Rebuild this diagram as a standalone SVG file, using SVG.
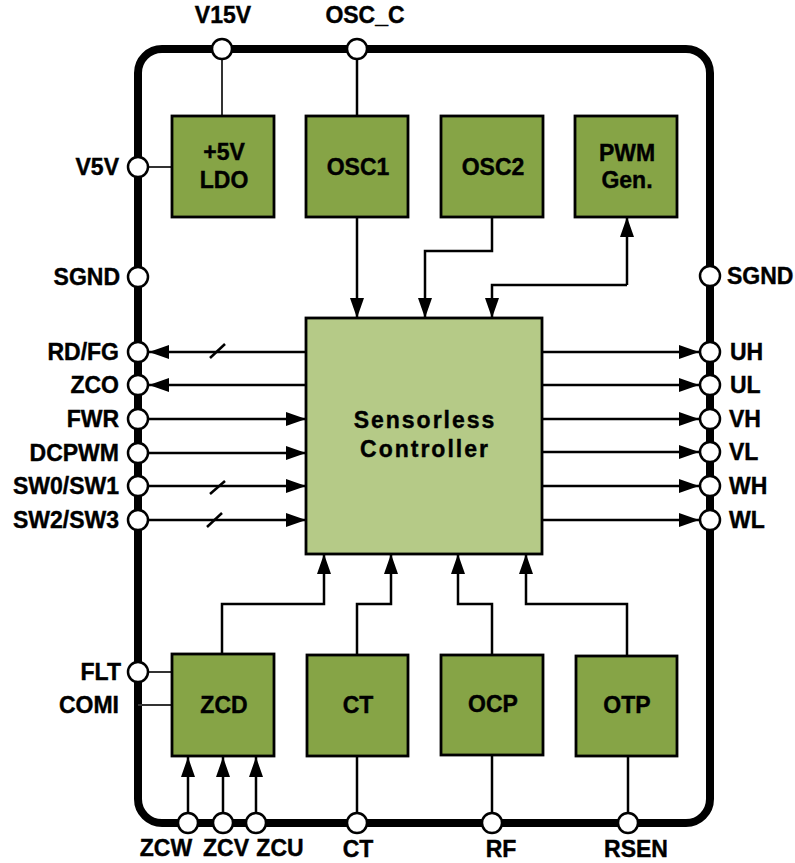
<svg xmlns="http://www.w3.org/2000/svg" width="795" height="863" viewBox="0 0 795 863">
<style>
text{font-family:"Liberation Sans",Arial,sans-serif;font-weight:bold;font-size:23px;fill:#000;stroke:#000;stroke-width:0.4}
.mid{text-anchor:middle}
.end{text-anchor:end}
.blk{fill:#86A446;stroke:#000;stroke-width:2.8}
.ctl{fill:#B5CA87;stroke:#000;stroke-width:2.8}
.pin{fill:#fff;stroke:#000;stroke-width:2.5}
.ln{fill:none;stroke:#000;stroke-width:2.5}
.thin{fill:none;stroke:#333;stroke-width:2}
.arr{marker-end:url(#ah)}
.big{letter-spacing:2px}
</style>
<defs>
<marker id="ah" markerUnits="userSpaceOnUse" markerWidth="20" markerHeight="14" refX="20" refY="7" orient="auto">
<path d="M0,0 L20,7 L0,14 Z" fill="#000"/>
</marker>
</defs>
<rect id="package" x="138" y="49" width="572" height="774" rx="24" fill="none" stroke="#000" stroke-width="8"/>
<g id="connectors">
<line class="thin" x1="222" y1="59" x2="222" y2="116"/>
<line class="thin" x1="148" y1="167" x2="172" y2="167"/>
<line class="ln" x1="357" y1="59" x2="357" y2="116"/>
<line class="ln arr" x1="357" y1="217" x2="357" y2="318"/>
<polyline class="ln arr" points="492,217 492,251 425,251 425,318"/>
<polyline class="ln arr" points="627,285 492,285 492,318"/>
<line class="ln arr" x1="627" y1="285" x2="627" y2="217"/>
<line class="ln arr" x1="306" y1="352" x2="149" y2="352"/>
<line class="ln arr" x1="306" y1="385" x2="149" y2="385"/>
<line class="ln arr" x1="148" y1="419" x2="306" y2="419"/>
<line class="ln arr" x1="148" y1="453" x2="306" y2="453"/>
<line class="ln arr" x1="148" y1="486" x2="306" y2="486"/>
<line class="ln arr" x1="148" y1="520" x2="306" y2="520"/>
<line class="ln" x1="210" y1="358" x2="225" y2="344"/>
<line class="ln" x1="210" y1="494" x2="225" y2="481"/>
<line class="ln" x1="207" y1="527" x2="222" y2="513"/>
<line class="ln arr" x1="542" y1="352" x2="699" y2="352"/>
<line class="ln arr" x1="542" y1="385" x2="699" y2="385"/>
<line class="ln arr" x1="542" y1="419" x2="699" y2="419"/>
<line class="ln arr" x1="542" y1="452" x2="699" y2="452"/>
<line class="ln arr" x1="542" y1="486" x2="699" y2="486"/>
<line class="ln arr" x1="542" y1="520" x2="699" y2="520"/>
<polyline class="ln arr" points="222,654 222,604 324,604 324,554"/>
<polyline class="ln arr" points="357,655 357,604 391,604 391,554"/>
<polyline class="ln arr" points="492,655 492,604 458,604 458,554"/>
<polyline class="ln arr" points="627,656 627,604 526,604 526,554"/>
<line class="thin" x1="148" y1="672" x2="172" y2="672"/>
<line class="thin" x1="138" y1="705" x2="172" y2="705"/>
<line class="ln arr" x1="188" y1="813" x2="188" y2="757"/>
<line class="ln arr" x1="223" y1="813" x2="223" y2="757"/>
<line class="ln arr" x1="256" y1="813" x2="256" y2="757"/>
<line class="ln" x1="357" y1="756" x2="357" y2="813"/>
<line class="ln" x1="492" y1="755" x2="492" y2="813"/>
<line class="ln" x1="628" y1="756" x2="628" y2="813"/>
</g>
<g id="ldo"><rect class="blk" x="172" y="116" width="102" height="101"/><text class="mid" x="224" y="160">+5V</text><text class="mid" x="224" y="188">LDO</text></g>
<g id="osc1"><rect class="blk" x="306" y="116" width="102" height="101"/><text class="mid" x="358" y="175">OSC1</text></g>
<g id="osc2"><rect class="blk" x="441" y="116" width="102" height="101"/><text class="mid" x="493" y="175">OSC2</text></g>
<g id="pwm"><rect class="blk" x="575" y="116" width="102" height="101"/><text class="mid" x="627" y="161">PWM</text><text class="mid" x="627" y="188">Gen.</text></g>
<g id="controller"><rect class="ctl" x="306" y="318" width="236" height="236"/><text class="mid big" x="425" y="428">Sensorless</text><text class="mid big" x="425" y="457">Controller</text></g>
<g id="zcd"><rect class="blk" x="172" y="654" width="102" height="102"/><text class="mid" x="224" y="713">ZCD</text></g>
<g id="ct"><rect class="blk" x="307" y="655" width="101" height="101"/><text class="mid" x="358" y="713">CT</text></g>
<g id="ocp"><rect class="blk" x="441" y="655" width="102" height="100"/><text class="mid" x="493" y="712">OCP</text></g>
<g id="otp"><rect class="blk" x="576" y="656" width="101" height="100"/><text class="mid" x="627" y="713">OTP</text></g>
<g id="pins">
<g id="pin-v15v"><circle class="pin" cx="222" cy="49" r="10"/><text class="mid" x="223" y="23">V15V</text></g>
<g id="pin-oscc"><circle class="pin" cx="357" cy="49" r="10"/><text class="mid" x="365" y="23">OSC_C</text></g>
<g id="pin-v5v"><circle class="pin" cx="138" cy="167" r="10"/><text class="end" x="119" y="175">V5V</text></g>
<g id="pin-sgnd-l"><circle class="pin" cx="138" cy="277" r="10"/><text class="end" x="120" y="285">SGND</text></g>
<g id="pin-rdfg"><circle class="pin" cx="138" cy="352" r="10"/><text class="end" x="119" y="360">RD/FG</text></g>
<g id="pin-zco"><circle class="pin" cx="138" cy="385" r="10"/><text class="end" x="119" y="393">ZCO</text></g>
<g id="pin-fwr"><circle class="pin" cx="138" cy="419" r="10"/><text class="end" x="119" y="427">FWR</text></g>
<g id="pin-dcpwm"><circle class="pin" cx="138" cy="453" r="10"/><text class="end" x="119" y="461">DCPWM</text></g>
<g id="pin-sw01"><circle class="pin" cx="138" cy="486" r="10"/><text class="end" x="119" y="494">SW0/SW1</text></g>
<g id="pin-sw23"><circle class="pin" cx="138" cy="520" r="10"/><text class="end" x="119" y="528">SW2/SW3</text></g>
<g id="pin-flt"><circle class="pin" cx="138" cy="672" r="10"/><text class="end" x="121" y="680">FLT</text></g>
<g id="pin-comi"><text class="end" x="119" y="713">COMI</text></g>
<g id="pin-sgnd-r"><circle class="pin" cx="710" cy="276" r="10"/><text x="727" y="284">SGND</text></g>
<g id="pin-uh"><circle class="pin" cx="710" cy="352" r="10"/><text x="730" y="360">UH</text></g>
<g id="pin-ul"><circle class="pin" cx="710" cy="385" r="10"/><text x="730" y="393">UL</text></g>
<g id="pin-vh"><circle class="pin" cx="710" cy="419" r="10"/><text x="729" y="427">VH</text></g>
<g id="pin-vl"><circle class="pin" cx="710" cy="452" r="10"/><text x="729" y="460">VL</text></g>
<g id="pin-wh"><circle class="pin" cx="710" cy="486" r="10"/><text x="729" y="494">WH</text></g>
<g id="pin-wl"><circle class="pin" cx="710" cy="520" r="10"/><text x="729" y="528">WL</text></g>
<g id="pin-zcw"><circle class="pin" cx="188" cy="823" r="10"/><text class="mid" x="166" y="856">ZCW</text></g>
<g id="pin-zcv"><circle class="pin" cx="223" cy="823" r="10"/><text class="mid" x="226" y="856">ZCV</text></g>
<g id="pin-zcu"><circle class="pin" cx="256" cy="823" r="10"/><text class="mid" x="280" y="856">ZCU</text></g>
<g id="pin-ct"><circle class="pin" cx="357" cy="823" r="10"/><text class="mid" x="358" y="857">CT</text></g>
<g id="pin-rf"><circle class="pin" cx="492" cy="823" r="10"/><text class="mid" x="501" y="857">RF</text></g>
<g id="pin-rsen"><circle class="pin" cx="628" cy="823" r="10"/><text class="mid" x="636" y="857">RSEN</text></g>
</g>
</svg>
